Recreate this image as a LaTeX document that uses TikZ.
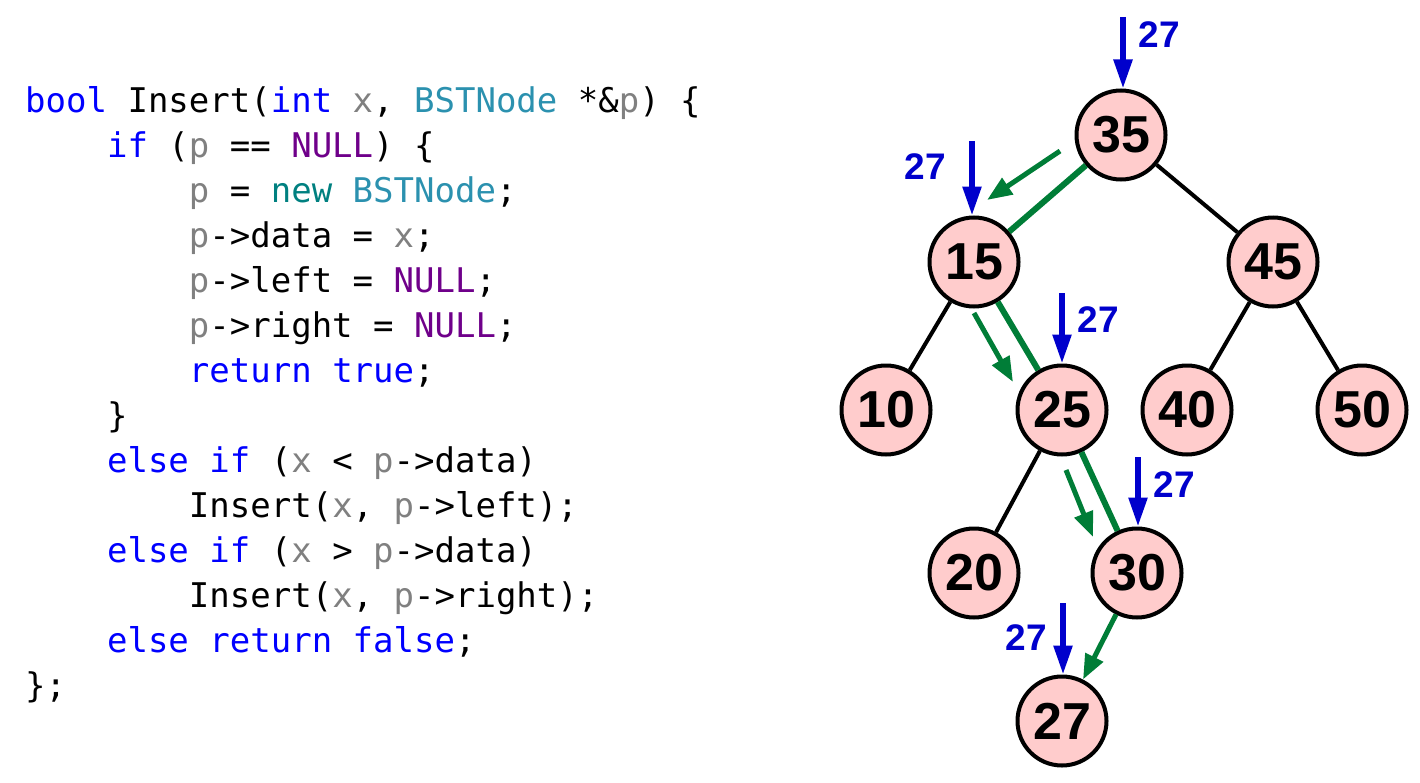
\documentclass[tikz,border=0pt]{standalone}
\usepackage{fontspec}
\setmainfont{Liberation Sans}
\newfontfamily\codefont{DejaVu Sans Mono}
\usetikzlibrary{arrows.meta}
\definecolor{kwblue}{RGB}{0,0,255}
\definecolor{tyteal}{RGB}{43,145,175}
\definecolor{nwteal}{RGB}{0,128,128}
\definecolor{nlpurple}{RGB}{111,0,138}
\definecolor{vrgray}{RGB}{128,128,128}
\definecolor{nodefill}{RGB}{255,204,204}
\definecolor{pathgreen}{RGB}{0,125,55}
\definecolor{arrblue}{RGB}{0,0,204}
\newcommand\kw[1]{\textcolor{kwblue}{#1}}
\newcommand\ty[1]{\textcolor{tyteal}{#1}}
\newcommand\nw[1]{\textcolor{nwteal}{#1}}
\newcommand\nl[1]{\textcolor{nlpurple}{#1}}
\newcommand\vr[1]{\textcolor{vrgray}{#1}}
\begin{document}
\begin{tikzpicture}[x=1bp,y=-1bp,
  codeline/.style={anchor=base west,inner sep=0pt,font=\codefont\fontsize{34bp}{45bp}\selectfont},
  bst/.style={circle,draw=black,line width=4bp,fill=nodefill,minimum size=89bp,inner sep=0pt,
    font=\bfseries\fontsize{52bp}{52bp}\selectfont},
  edge/.style={draw=black,line width=4bp},
  gedge/.style={draw=pathgreen,line width=6bp},
  garrow/.style={draw=pathgreen,line width=5bp,-{Triangle[length=25bp,width=19bp]}},
  barrow/.style={draw=arrblue,line width=5.5bp,-{Triangle[length=29bp,width=18bp]}},
  blabel/.style={text=arrblue,inner sep=0pt,font=\bfseries\fontsize{37bp}{37bp}\selectfont}]
\useasboundingbox (0,0) rectangle (1420,782);
% code
\def\cw{20.47}
\node[codeline] (c1) at (25,112) {\kw{bool} Insert(\kw{int} \vr{x}, \ty{BSTNode} *\&\vr{p}) \{};
\node[codeline] (c2) at (25+4*\cw,157) {\kw{if} (\vr{p} == \nl{NULL}) \{};
\node[codeline] (c3) at (25+8*\cw,202) {\vr{p} = \nw{new} \ty{BSTNode};};
\node[codeline] (c4) at (25+8*\cw,247) {\vr{p}->data = \vr{x};};
\node[codeline] (c5) at (25+8*\cw,292) {\vr{p}->left = \nl{NULL};};
\node[codeline] (c6) at (25+8*\cw,337) {\vr{p}->right = \nl{NULL};};
\node[codeline] (c7) at (25+8*\cw,382) {\kw{return} \kw{true};};
\node[codeline] (c8) at (25+4*\cw,427) {\}};
\node[codeline] (c9) at (25+4*\cw,472) {\kw{else} \kw{if} (\vr{x} < \vr{p}->data)};
\node[codeline] (c10) at (25+8*\cw,517) {Insert(\vr{x}, \vr{p}->left);};
\node[codeline] (c11) at (25+4*\cw,562) {\kw{else} \kw{if} (\vr{x} > \vr{p}->data)};
\node[codeline] (c12) at (25+8*\cw,607) {Insert(\vr{x}, \vr{p}->right);};
\node[codeline] (c13) at (25+4*\cw,652) {\kw{else} \kw{return} \kw{false};};
\node[codeline] (c14) at (25,697) {\};};
% tree nodes
\node[bst] (n35) at (1121,135) {35};
\node[bst] (n15) at (974,262) {15};
\node[bst] (n45) at (1273,262) {45};
\node[bst] (n10) at (886,410) {10};
\node[bst] (n25) at (1062,410) {25};
\node[bst] (n40) at (1187,410) {40};
\node[bst] (n50) at (1362,410) {50};
\node[bst] (n20) at (974,573) {20};
\node[bst] (n30) at (1137,573) {30};
\node[bst] (n27) at (1062,721) {27};
% edges
\path[edge] (n35) -- (n45);
\path[edge] (n15) -- (n10);
\path[edge] (n25) -- (n20);
\path[edge] (n45) -- (n40);
\path[edge] (n45) -- (n50);
\path[gedge] (n35) -- (n15);
\path[gedge] (n15) -- (n25);
\path[gedge] (n25) -- (n30);
\path[garrow] (n30) -- (n27);
% green direction arrows
\coordinate (g1s) at (1060,151);
\coordinate (g1e) at (987,200);
\coordinate (g2s) at (974,313);
\coordinate (g2e) at (1013,382);
\coordinate (g3s) at (1066,470);
\coordinate (g3e) at (1093,537);
\path[garrow] (g1s) -- (g1e);
\path[garrow] (g2s) -- (g2e);
\path[garrow] (g3s) -- (g3e);
% blue arrows
\coordinate (b35) at (1123,17);
\coordinate (b15) at (972,141);
\coordinate (b25) at (1062,293);
\coordinate (b30) at (1138,457);
\coordinate (b27) at (1063,603);
\path[barrow] (b35) -- (n35.north -| b35);
\path[barrow] (b15) -- (n15.north -| b15);
\path[barrow] (b25) -- (n25.north -| b25);
\path[barrow] (b30) -- (n30.north -| b30);
\path[barrow] (b27) -- (n27.north -| b27);
\node[blabel] (l35) at (1159,35) {27};
\node[blabel] (l15) at (925,167) {27};
\node[blabel] (l25) at (1098,320) {27};
\node[blabel] (l30) at (1174,485) {27};
\node[blabel] (l27) at (1026,638) {27};
\end{tikzpicture}
\end{document}
